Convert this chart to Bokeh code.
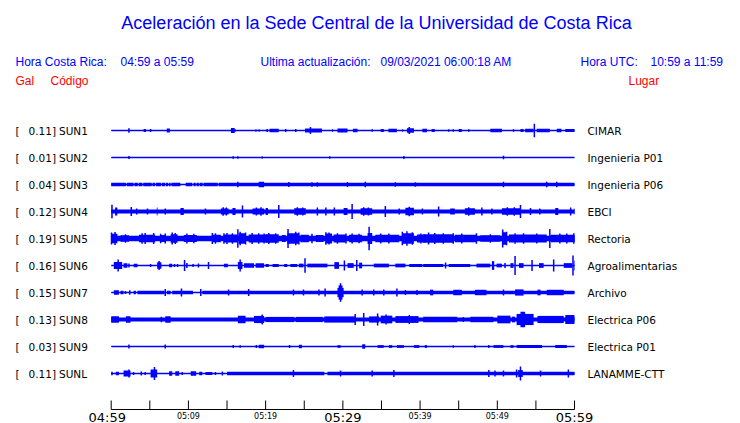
from bokeh.plotting import figure
from bokeh.models import Range1d
from bokeh.embed import file_html
from bokeh.resources import INLINE
from bokeh.core.properties import value

# ---------------- data ----------------
TITLE = "Aceleración en la Sede Central de la Universidad de Costa Rica"
STATIONS = ["SUN1", "SUN2", "SUN3", "SUN4", "SUN5", "SUN6", "SUN7", "SUN8", "SUN9", "SUNL"]
PEAK_GAL = [0.11, 0.01, 0.04, 0.12, 0.19, 0.16, 0.15, 0.13, 0.03, 0.11]
PLACES = ["CIMAR", "Ingenieria P01", "Ingenieria P06", "EBCI", "Rectoria",
          "Agroalimentarias", "Archivo", "Electrica P06", "Electrica P01", "LANAMME-CTT"]
# continuous noise floor, half amplitude (Gal)
BASE_GAL = [0.011, 0.011, 0.011, 0.034, 0.044, 0.011, 0.011, 0.032, 0.011, 0.011]
TICK_MIN = [0, 5, 10, 15, 20, 25, 30, 35, 40, 45, 50, 55, 60]
TICK_LABELS = {0: "04:59", 10: "05:09", 20: "05:19", 30: "05:29", 40: "05:39", 50: "05:49", 60: "05:59"}
BIG_TICK_LABELS = [0, 30, 60]

# bursts: (start minute, end minute, half amplitude Gal); start == end -> single spike
SUN1 = [(2.2, 2.4, 0.035), (4.2, 4.5, 0.024), (5.1, 5.1, 0.024), (7.2, 7.6, 0.032), (15.5, 16.0, 0.040),
        (16.0, 16.1, 0.024), (18.7, 18.8, 0.024), (19.1, 19.2, 0.024), (20.1, 20.3, 0.024), (20.5, 21.7, 0.028),
        (22.5, 22.7, 0.024), (23.8, 24.0, 0.024), (25.1, 27.3, 0.034), (25.8, 25.8, 0.056), (28.6, 28.7, 0.024),
        (29.3, 30.6, 0.032), (31.3, 31.9, 0.028), (33.8, 33.8, 0.020), (34.9, 35.3, 0.024), (35.9, 37.0, 0.028),
        (37.7, 37.8, 0.024), (38.3, 39.2, 0.036), (38.6, 38.6, 0.056), (40.3, 40.9, 0.028), (41.5, 41.9, 0.024),
        (43.7, 43.7, 0.020), (44.3, 44.3, 0.020), (45.0, 45.4, 0.024), (46.3, 46.3, 0.020), (49.1, 50.6, 0.028),
        (52.1, 52.1, 0.020), (53.0, 53.4, 0.024), (53.6, 54.7, 0.028), (54.8, 54.8, 0.110), (55.1, 56.8, 0.028),
        (57.7, 58.3, 0.028), (58.8, 60.0, 0.024)]
SUN2 = [(2.3, 2.3, 0.024), (15.7, 15.9, 0.020), (16.4, 16.4, 0.020), (19.5, 19.6, 0.024), (28.3, 28.3, 0.020),
        (37.9, 37.9, 0.024), (50.7, 50.9, 0.028)]
SUN3 = [(0.0, 1.9, 0.029), (2.0, 2.9, 0.029), (3.0, 3.45, 0.029), (3.55, 4.05, 0.029), (4.15, 5.25, 0.029),
        (5.35, 5.7, 0.029), (5.8, 6.45, 0.029), (6.55, 7.0, 0.029), (7.1, 7.4, 0.029), (7.5, 7.7, 0.029),
        (7.8, 8.95, 0.029), (9.65, 10.5, 0.029), (10.65, 10.95, 0.029), (11.05, 11.35, 0.029), (11.45, 11.85, 0.029),
        (11.95, 13.8, 0.029), (13.9, 60.0, 0.029),
        (16.3, 16.5, 0.045), (19.1, 19.8, 0.045), (23.0, 23.0, 0.040), (26.0, 26.0, 0.038), (26.7, 26.7, 0.038),
        (30.6, 30.6, 0.040), (32.8, 33.0, 0.045), (36.8, 36.8, 0.038), (39.4, 39.4, 0.038), (50.8, 50.8, 0.045),
        (56.4, 56.4, 0.045), (57.7, 57.7, 0.045)]
SUN4 = [(0.0, 0.2, 0.108), (0.5, 0.8, 0.065), (2.5, 2.7, 0.073), (3.3, 3.3, 0.048), (4.7, 4.7, 0.048),
        (5.9, 6.0, 0.065), (7.0, 7.0, 0.048), (8.97, 9.4, 0.056), (12.2, 12.2, 0.048), (14.2, 15.2, 0.050),
        (14.5, 14.5, 0.070), (14.9, 14.9, 0.065), (15.7, 16.1, 0.058), (17.0, 17.0, 0.097), (18.3, 19.8, 0.050),
        (18.8, 18.8, 0.065), (19.4, 19.4, 0.070), (20.0, 20.3, 0.058), (21.7, 21.7, 0.105), (23.7, 25.2, 0.052),
        (24.1, 24.1, 0.070), (24.8, 24.8, 0.065), (26.7, 26.7, 0.065), (27.8, 27.8, 0.065), (28.9, 28.9, 0.065),
        (30.1, 30.6, 0.058), (31.2, 31.2, 0.121), (32.3, 33.8, 0.052), (32.7, 32.7, 0.070), (33.3, 33.3, 0.065),
        (35.5, 35.5, 0.089), (37.3, 37.3, 0.048), (38.1, 39.2, 0.060), (38.6, 38.6, 0.075), (40.3, 40.3, 0.048),
        (42.4, 42.4, 0.081), (43.9, 44.5, 0.050), (45.8, 47.1, 0.052), (46.3, 46.3, 0.070), (48.0, 48.0, 0.065),
        (49.3, 49.3, 0.048), (50.6, 53.0, 0.054), (51.3, 51.3, 0.070), (52.2, 52.2, 0.068), (53.0, 53.0, 0.105),
        (54.3, 54.3, 0.056), (55.5, 55.5, 0.048), (57.5, 57.9, 0.058), (59.5, 59.5, 0.065), (59.9, 60.0, 0.048)]
SUN5 = [(0.1, 0.8, 0.075), (1.2, 2.3, 0.052), (3.6, 5.7, 0.060), (6.4, 7.0, 0.055), (7.7, 8.6, 0.068),
        (9.4, 11.1, 0.055), (13.1, 14.2, 0.062), (14.6, 16.3, 0.065), (16.5, 17.4, 0.085), (17.8, 20.2, 0.065),
        (20.0, 21.7, 0.068), (22.1, 22.6, 0.055), (22.8, 24.3, 0.085), (24.5, 25.6, 0.060), (26.5, 27.5, 0.055),
        (27.8, 28.6, 0.080), (28.8, 30.4, 0.065), (30.8, 32.5, 0.060), (33.2, 33.8, 0.090), (34.2, 37.3, 0.060),
        (37.7, 39.2, 0.085), (39.6, 40.7, 0.065), (40.4, 44.3, 0.068), (44.5, 47.3, 0.060), (47.8, 50.4, 0.052),
        (50.6, 51.2, 0.100), (51.5, 56.4, 0.065), (56.9, 60.0, 0.060),
        (0.04, 0.04, 0.095), (0.5, 0.5, 0.105), (1.85, 1.85, 0.070), (4.0, 4.0, 0.085), (4.4, 4.4, 0.089),
        (5.5, 5.5, 0.089), (6.4, 6.4, 0.075), (7.0, 7.0, 0.080), (7.9, 7.9, 0.095), (8.3, 8.3, 0.090),
        (9.8, 9.8, 0.080), (10.7, 10.7, 0.075), (13.1, 13.1, 0.090), (13.5, 13.5, 0.085), (14.6, 14.6, 0.085),
        (15.0, 15.0, 0.090), (15.7, 15.7, 0.085), (16.4, 16.4, 0.150), (16.7, 16.7, 0.110), (17.4, 17.4, 0.095),
        (18.25, 18.25, 0.090), (19.1, 19.1, 0.085), (19.8, 19.8, 0.080), (20.4, 20.4, 0.090), (21.3, 21.3, 0.085),
        (22.9, 22.9, 0.153), (23.9, 23.9, 0.110), (24.3, 24.3, 0.095), (26.0, 26.0, 0.075), (27.8, 27.8, 0.100),
        (28.2, 28.2, 0.095), (29.3, 29.3, 0.085), (30.4, 30.4, 0.080), (31.2, 31.2, 0.080), (32.1, 32.1, 0.075),
        (33.4, 33.4, 0.190), (34.9, 34.9, 0.080), (35.96, 35.96, 0.080), (37.7, 37.7, 0.110), (38.3, 38.3, 0.115),
        (39.0, 39.0, 0.100), (40.1, 40.1, 0.080), (41.1, 41.1, 0.095), (41.9, 41.9, 0.090), (43.0, 43.0, 0.085),
        (44.3, 44.3, 0.085), (45.4, 45.4, 0.080), (47.3, 47.3, 0.085), (49.1, 49.1, 0.070), (50.7, 50.7, 0.145),
        (51.2, 51.2, 0.110), (52.3, 52.3, 0.085), (53.4, 53.4, 0.085), (55.1, 55.1, 0.080), (56.8, 56.8, 0.153),
        (58.1, 58.1, 0.080), (59.0, 59.0, 0.080), (59.9, 59.9, 0.085)]
SUN6 = [(0.34, 1.42, 0.058), (0.9, 0.9, 0.097), (1.6, 2.1, 0.038), (2.3, 2.3, 0.032), (2.9, 3.4, 0.030),
        (5.1, 5.1, 0.024), (5.95, 6.5, 0.054), (6.2, 6.2, 0.073), (7.5, 7.9, 0.030), (8.2, 8.2, 0.024),
        (8.6, 8.6, 0.024), (9.5, 9.5, 0.089), (9.8, 9.8, 0.040), (10.6, 10.6, 0.024), (11.3, 11.3, 0.032),
        (12.6, 12.6, 0.056), (14.6, 15.1, 0.030), (16.4, 17.0, 0.058), (16.7, 16.7, 0.097), (17.2, 18.5, 0.036),
        (18.7, 19.8, 0.036), (20.0, 20.4, 0.024), (20.9, 21.7, 0.024), (22.4, 22.8, 0.024), (23.2, 24.1, 0.024),
        (24.3, 24.9, 0.030), (25.1, 25.1, 0.117), (25.4, 28.0, 0.030), (28.9, 29.5, 0.054), (30.2, 30.2, 0.081),
        (30.6, 31.4, 0.038), (31.8, 31.8, 0.089), (32.1, 32.5, 0.046), (34.0, 35.96, 0.030), (36.8, 38.1, 0.030),
        (38.6, 40.3, 0.024), (40.4, 43.0, 0.024), (43.3, 43.3, 0.048), (43.7, 46.5, 0.024), (47.3, 49.1, 0.030),
        (49.3, 49.6, 0.070), (49.9, 50.6, 0.030), (51.0, 51.0, 0.040), (51.7, 52.1, 0.038), (52.3, 52.3, 0.153),
        (52.8, 53.4, 0.038), (54.5, 54.5, 0.089), (55.4, 56.0, 0.038), (57.3, 57.3, 0.097), (58.6, 59.7, 0.038),
        (59.8, 59.8, 0.160), (59.9, 60.0, 0.081)]
SUN7 = [(0.35, 1.0, 0.038), (1.2, 1.6, 0.030), (1.85, 1.85, 0.024), (2.3, 2.5, 0.038), (2.9, 3.2, 0.030),
        (3.4, 6.9, 0.030), (7.0, 7.0, 0.056), (7.2, 7.7, 0.030), (7.9, 10.6, 0.030), (9.1, 9.1, 0.065),
        (11.6, 11.6, 0.056), (11.8, 60.0, 0.030),
        (15.2, 15.2, 0.048), (17.8, 17.8, 0.056), (23.6, 23.6, 0.048), (24.9, 24.9, 0.048), (26.9, 26.9, 0.048),
        (27.7, 27.7, 0.065), (29.3, 30.1, 0.075), (29.45, 29.95, 0.115), (29.7, 29.7, 0.150), (32.5, 32.5, 0.048),
        (34.0, 34.0, 0.048), (35.3, 35.3, 0.048), (37.0, 37.0, 0.065), (38.1, 38.1, 0.040), (39.6, 39.6, 0.040),
        (41.3, 41.7, 0.046), (44.3, 45.4, 0.044), (47.1, 48.6, 0.044), (50.8, 50.8, 0.048), (52.3, 53.4, 0.050),
        (55.2, 55.6, 0.046), (56.4, 58.6, 0.044)]
SUN8 = [(0.0, 1.0, 0.054), (1.9, 2.5, 0.054), (6.4, 6.6, 0.046), (7.0, 7.7, 0.054), (16.4, 17.4, 0.060),
        (18.5, 19.8, 0.058), (19.55, 19.55, 0.081), (20.0, 23.7, 0.042), (23.9, 27.4, 0.042), (27.6, 31.6, 0.050),
        (31.6, 31.6, 0.089), (32.7, 32.7, 0.105), (33.4, 34.7, 0.050), (34.5, 34.5, 0.097), (34.9, 36.4, 0.062),
        (35.6, 35.6, 0.081), (36.8, 39.8, 0.055), (38.6, 38.6, 0.073), (40.4, 44.8, 0.044), (45.6, 45.6, 0.040),
        (46.5, 49.5, 0.044), (50.0, 51.7, 0.062), (51.9, 52.3, 0.046), (52.5, 54.7, 0.090), (53.0, 53.6, 0.125),
        (55.2, 58.6, 0.058), (58.8, 60.0, 0.072)]
SUN9 = [(2.3, 2.3, 0.032), (7.0, 7.0, 0.032), (15.8, 15.8, 0.024), (16.7, 16.7, 0.020), (18.8, 18.8, 0.024),
        (19.1, 19.8, 0.028), (23.1, 23.1, 0.024), (24.3, 24.7, 0.028), (29.3, 29.7, 0.022), (32.5, 32.9, 0.036),
        (34.5, 35.3, 0.022), (35.96, 36.4, 0.022), (37.0, 37.9, 0.022), (39.2, 39.9, 0.022), (40.6, 40.9, 0.022),
        (44.3, 44.3, 0.020), (47.1, 47.1, 0.024), (48.9, 48.9, 0.024), (49.5, 50.8, 0.022), (51.7, 52.1, 0.022),
        (52.5, 55.8, 0.024), (57.5, 59.0, 0.024)]
SUNL = [(0.0, 0.2, 0.030), (0.6, 1.0, 0.030), (1.6, 2.5, 0.050), (2.3, 2.3, 0.065), (2.9, 2.9, 0.024),
        (3.9, 3.9, 0.032), (4.4, 4.4, 0.024), (5.1, 5.95, 0.064), (5.6, 5.6, 0.105), (7.5, 7.9, 0.038),
        (8.3, 8.8, 0.038), (9.2, 9.2, 0.024), (10.3, 11.0, 0.038), (11.4, 11.8, 0.030), (12.2, 13.1, 0.024),
        (13.5, 13.5, 0.024), (14.4, 14.4, 0.032), (15.0, 27.6, 0.030), (28.0, 60.0, 0.030),
        (23.6, 23.6, 0.056), (29.7, 29.7, 0.048), (33.8, 33.8, 0.048), (36.6, 36.6, 0.056), (48.9, 48.9, 0.056),
        (49.7, 49.7, 0.048), (50.8, 50.8, 0.048), (52.5, 52.5, 0.065), (52.7, 53.3, 0.056), (53.0, 53.0, 0.113),
        (55.6, 55.6, 0.048), (59.2, 59.2, 0.065)]
BURSTS = [SUN1, SUN2, SUN3, SUN4, SUN5, SUN6, SUN7, SUN8, SUN9, SUNL]

HEADER_LEFT = ("Hora Costa Rica:", "04:59 a 05:59")
HEADER_MID = ("Ultima actualización:", "09/03/2021 06:00:18 AM")
HEADER_RIGHT = ("Hora UTC:", "10:59 a 11:59")

# ---------------- layout (page pixels; the figure sits at the page origin) ----------------
W, H = 740, 423
X0_PX, PX_PER_MIN = 110.7, 7.722     # minute 0 at page x, scale
Y0_PX, PX_PER_GAL = 130.0, 62.0      # first trace at page y, scale
ROW_PX = 27.0
ROW_GAP = ROW_PX / PX_PER_GAL
T_END = 60.0


def dx(px):
    return (px - X0_PX) / PX_PER_MIN


def dy(py):
    return (Y0_PX - py) / PX_PER_GAL


BLUE = "#0000ff"
RED = "#ff0000"

p = figure(width=W, height=H, output_backend="svg", toolbar_location=None,
           x_range=Range1d(dx(0), dx(W)), y_range=Range1d(dy(H), dy(0)),
           min_border=0, outline_line_color=None)
p.axis.visible = False
p.grid.visible = False
p.background_fill_color = "white"
p.border_fill_color = "white"

# traces
ql, qr, qb, qt = [], [], [], []
sx, sy0, sy1 = [], [], []
for i, bursts in enumerate(BURSTS):
    y0 = -i * ROW_GAP
    ql.append(0.0); qr.append(T_END); qb.append(y0 - BASE_GAL[i]); qt.append(y0 + BASE_GAL[i])
    for (a, b, amp) in bursts:
        if b > a:
            ql.append(a); qr.append(b); qb.append(y0 - amp); qt.append(y0 + amp)
        else:
            sx.append(a); sy0.append(y0 - amp); sy1.append(y0 + amp)

p.quad(left=ql, right=qr, bottom=qb, top=qt, fill_color=BLUE, line_color=None)
p.segment(x0=sx, x1=sx, y0=sy0, y1=sy1, line_color=BLUE, line_width=1.5)


def txt(x, y, s, size, color="black", font="DejaVu Sans", align="left", xoff=0):
    p.text(x=[x], y=[y], text=[s], text_font=value(font), text_font_size=size, text_color=color,
           text_align=align, text_baseline="middle", x_offset=xoff)


# title and header
txt(dx(376), dy(22), TITLE, "18px", BLUE, "Liberation Sans", "center")
txt(dx(15), dy(61), HEADER_LEFT[0], "12px", BLUE, "Liberation Sans")
txt(dx(120), dy(61), HEADER_LEFT[1], "12px", BLUE, "Liberation Sans")
txt(dx(260), dy(61), HEADER_MID[0], "12px", BLUE, "Liberation Sans")
txt(dx(380), dy(61), HEADER_MID[1], "12px", BLUE, "Liberation Sans")
txt(dx(580), dy(61), HEADER_RIGHT[0], "12px", BLUE, "Liberation Sans")
txt(dx(650), dy(61), HEADER_RIGHT[1], "12px", BLUE, "Liberation Sans")
txt(dx(15), dy(80), "Gal", "12px", RED, "Liberation Sans")
txt(dx(50), dy(80), "Código", "12px", RED, "Liberation Sans")
txt(dx(628), dy(80), "Lugar", "12px", RED, "Liberation Sans")

# station labels
for i, (st, pk, pl) in enumerate(zip(STATIONS, PEAK_GAL, PLACES)):
    yrow = -i * ROW_GAP
    txt(dx(15), yrow, "[", "10.5px")
    txt(dx(28), yrow, f"{pk:.2f}]", "10.5px")
    txt(dx(58.5), yrow, st, "10.5px")
    txt(dx(587), yrow, pl, "10.5px")

# time axis
AXIS_PX = 409.0
ya = dy(AXIS_PX)
p.segment(x0=[TICK_MIN[0]], x1=[TICK_MIN[-1]], y0=[ya], y1=[ya], line_color="black", line_width=1)
p.segment(x0=TICK_MIN, x1=TICK_MIN, y0=[ya] * len(TICK_MIN), y1=[dy(AXIS_PX - 9)] * len(TICK_MIN),
          line_color="black", line_width=1)
for m, lab in TICK_LABELS.items():
    if m in BIG_TICK_LABELS:
        txt(m, dy(416.5), lab, "13px", align="center", xoff=(-4 if m == TICK_MIN[0] else 0))
    else:
        txt(m, dy(415.5), lab, "8px", align="center")

open("out.html", "w").write(file_html(p, INLINE))
